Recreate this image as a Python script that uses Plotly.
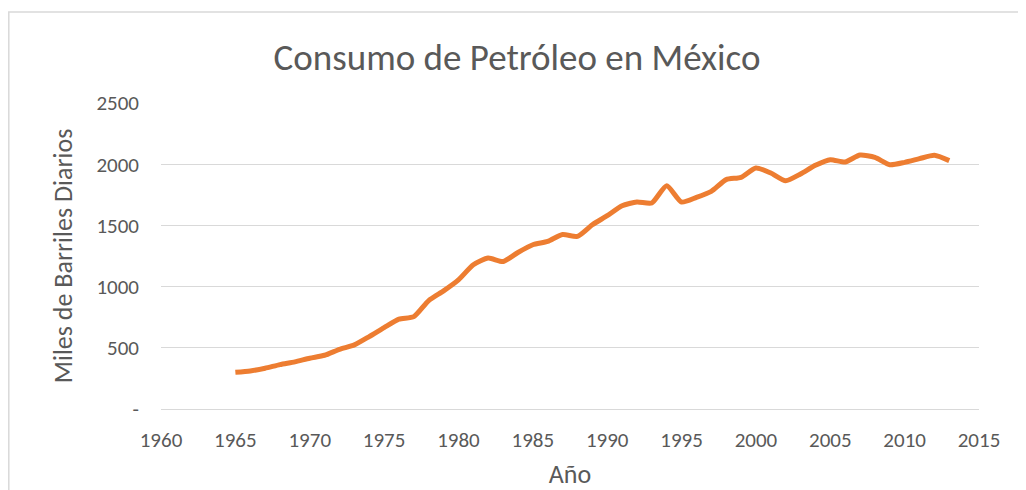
import plotly.graph_objects as go

years = list(range(1965, 2014))
consumo = [300, 311, 333, 363, 385, 415, 439, 488, 524, 592,
           665, 734, 755, 886, 965, 1055, 1178, 1233, 1205, 1279,
           1342, 1369, 1426, 1410, 1505, 1579, 1661, 1691, 1683, 1824,
           1691, 1729, 1778, 1874, 1893, 1969, 1928, 1865, 1920, 1991,
           2037, 2018, 2075, 2056, 1996, 2015, 2045, 2073, 2029]

x_ticks = list(range(1960, 2016, 5))
y_ticks = [0, 500, 1000, 1500, 2000, 2500]
y_ticktext = ["-", "500", "1000", "1500", "2000", "2500"]

FONT = "Carlito, Calibri, 'Liberation Sans Narrow', 'Open Sans', sans-serif"
GREY = "#595959"
GRID = "#D9D9D9"

fig = go.Figure()
fig.add_trace(go.Scatter(
    x=years, y=consumo, mode="lines",
    line=dict(color="#ED7D31", width=5, shape="spline", smoothing=0.6),
    showlegend=False, cliponaxis=False,
))

# page body has an 8px margin; figure coords are screen coords minus 8
W, H = 1018, 482
L, T = 153, 95
R, B = 47, 81
pw, ph = W - L - R, H - T - B

fig.update_layout(
    width=W, height=H,
    margin=dict(l=L, r=R, t=T, b=B, autoexpand=False),
    paper_bgcolor="white", plot_bgcolor="white",
    font=dict(family=FONT, color=GREY),
    title=dict(text="Consumo de Petróleo en México", x=0.5, xanchor="center",
               y=1 - 49 / H, yanchor="middle",
               font=dict(size=37, color=GREY, family=FONT)),
    xaxis=dict(range=[1960, 2015], tickvals=x_ticks, showgrid=False,
               zeroline=False, showline=False, ticks="", automargin=False,
               tickfont=dict(size=21, color=GREY), ticklabelstandoff=16,
               title=dict(text="Año", font=dict(size=26, color=GREY), standoff=19)),
    yaxis=dict(range=[0, 2500], tickvals=y_ticks, ticktext=y_ticktext,
               showgrid=True, gridcolor=GRID, gridwidth=1.3,
               zeroline=True, zerolinecolor=GRID, zerolinewidth=1.3,
               showline=False, ticks="", automargin=False,
               tickfont=dict(size=21, color=GREY), ticklabelstandoff=21,
               title=dict(text="Miles de Barriles Diarios",
                          font=dict(size=26, color=GREY), standoff=16)),
    shapes=[dict(type="rect", xref="paper", yref="paper",
                 x0=(0.8 - L) / pw, x1=(W + 20 - L) / pw,
                 y0=-(B + 20) / ph, y1=(T + ph - 4) / ph,
                 line=dict(color=GRID, width=1.5), layer="below")],
)

fig.write_html("out.html")
